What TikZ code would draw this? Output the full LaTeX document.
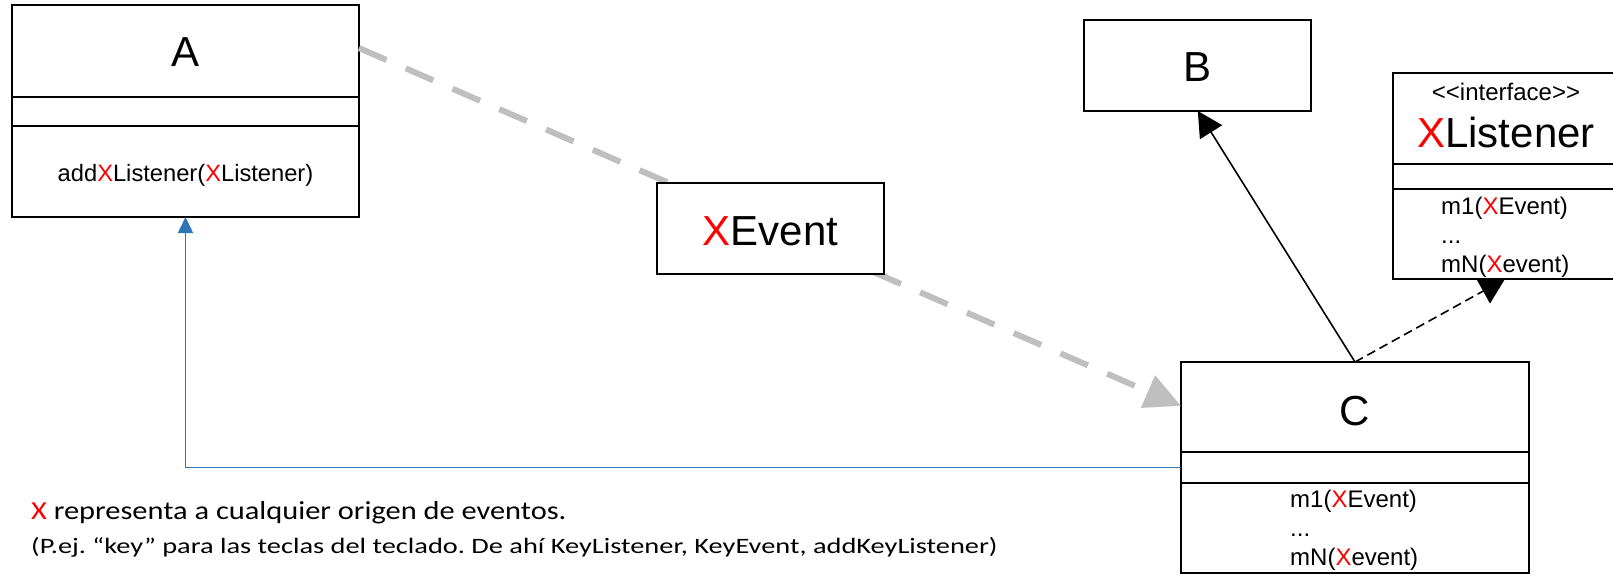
\documentclass[tikz,border=0pt]{standalone}
\usepackage{fontspec}
\setmainfont{Liberation Sans}
\newfontfamily\noteA{Carlito}[FakeStretch=1.17]
\newfontfamily\noteB{Carlito}[FakeStretch=1.29]
\usetikzlibrary{arrows.meta,calc}
\definecolor{xred}{RGB}{255,0,0}
\definecolor{evgray}{RGB}{191,191,191}
\definecolor{lnblue}{RGB}{46,117,182}
\newcommand{\rx}{\textcolor{xred}{X}}
\begin{document}
\begin{tikzpicture}[x=1pt,y=-1pt,
  classbox/.style={draw=black, line width=2pt, fill=white, inner sep=0pt, outer sep=0pt},
  divider/.style={line width=2pt},
  titletext/.style={font=\fontsize{42}{42}\selectfont, anchor=base, inner sep=0pt},
  stereo/.style={font=\fontsize{24}{24}\selectfont, anchor=base, inner sep=0pt},
  methtext/.style={font=\fontsize{24}{24}\selectfont, anchor=base west, inner sep=0pt},
  methcenter/.style={font=\fontsize{23.7}{24}\selectfont, anchor=base, inner sep=0pt},
  evline/.style={draw=evgray, line width=6pt, dash pattern=on 30pt off 21pt,
    -{Triangle[length=36pt,width=34pt]}},
  inherit/.style={draw=black, line width=1.6pt, -{Triangle[length=25pt,width=26pt]}},
  realize/.style={draw=black, line width=1.6pt, dash pattern=on 9pt off 5pt,
    -{Triangle[length=25pt,width=28pt]}},
  blueline/.style={draw=lnblue, line width=1.6pt, -{Triangle[length=16pt,width=15pt]}},
  note1/.style={font=\noteA\fontsize{26}{26}\selectfont\frenchspacing, anchor=base west, inner sep=0pt},
  note2/.style={font=\noteB\fontsize{22}{22}\selectfont\frenchspacing, anchor=base west, inner sep=0pt}
]
\useasboundingbox (0,0) rectangle (1613,580);
\clip (0,0) rectangle (1613,580);

% class A
\node[classbox, minimum width=347pt, minimum height=212pt] (A) at (185.5,111) {};
\draw[divider] (A.west |- 0,97) -- (A.east |- 0,97);
\draw[divider] (A.west |- 0,126) -- (A.east |- 0,126);
\node[titletext] (Atitle) at (185.5,67) {A};
\node[methcenter] (Ameth) at (185.5,182) {add\rx Listener(\rx Listener)};

% class B
\node[classbox, minimum width=227pt, minimum height=91pt] (B) at (1197.8,65.5) {};
\node[titletext] (Btitle) at (1197.8,82) {B};

% interface XListener (right side runs past the edge)
\node[classbox, minimum width=225pt, minimum height=206pt] (XL) at (1505,176) {};
\draw[divider] (XL.west |- 0,164) -- (XL.east |- 0,164);
\draw[divider] (XL.west |- 0,189) -- (XL.east |- 0,189);
\node[stereo] (XLst) at (1506,101) {<\kern0pt<interface>\kern0pt>};
\node[titletext] (XLtitle) at (1506,148) {\rx Listener};
\node[methtext] (XLm1) at (1441,214) {m1(\rx Event)};
\node[methtext] (XLdots) at (1441,243) {...};
\node[methtext] (XLmN) at (1441,272) {mN(\rx event)};

% class C
\node[classbox, minimum width=348pt, minimum height=211pt] (C) at (1355,467.5) {};
\draw[divider] (C.west |- 0,452) -- (C.east |- 0,452);
\draw[divider] (C.west |- 0,483) -- (C.east |- 0,483);
\node[titletext] (Ctitle) at (1355,425) {C};
\node[methtext] (Cm1) at (1290,507) {m1(\rx Event)};
\node[methtext] (Cdots) at (1290,536) {...};
\node[methtext] (CmN) at (1290,565) {mN(\rx event)};

% connectors
\draw[evline] ($(A.north east)!0.203!(A.south east)$) -- ($(C.north west)!0.208!(C.south west)$);
\draw[inherit] (C.north) -- (B.south);
\draw[realize] (C.north) -- (XL.south);
\draw[blueline] (C.west) -| (A.south);

% XEvent box on top of the gray line
\node[classbox, line width=1.8pt, minimum width=227pt, minimum height=91pt] (XE) at (770.5,228.5) {};
\node[titletext] (XEtitle) at (770.5,245) {\rx Event};

% note
\node[note1] (note1) at (31,519) {\rx{} representa a cualquier origen de eventos.};
\node[note2] (note2) at (31,553) {(P.ej. “key” para las teclas del teclado. De ahí KeyListener, KeyEvent, addKeyListener)};
\end{tikzpicture}
\end{document}
